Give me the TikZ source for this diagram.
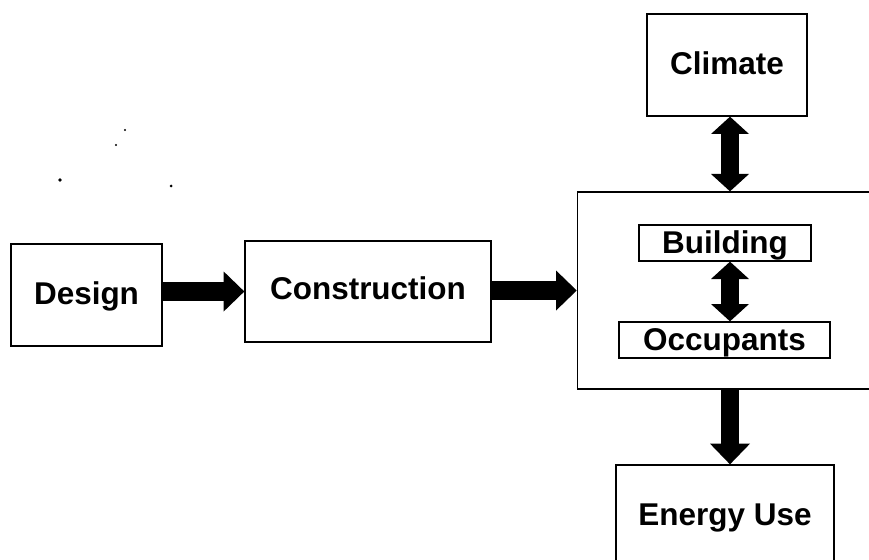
\documentclass[tikz,border=0pt]{standalone}
\usepackage{fontspec}
\setmainfont{Liberation Sans}
\usetikzlibrary{arrows.meta}
\tikzset{
  x=0.75pt,y=-0.75pt,
  boxnode/.style={draw=black,line width=1pt,fill=white,inner sep=0pt,font=\fontsize{23.6pt}{26pt}\selectfont\bfseries,text height=19.5pt,text depth=5pt,align=center},
  heavy/.style={line width=13.6pt,draw=black,-{Triangle[width=30pt,length=15.5pt,line width=0pt]}},
  heavytwo/.style={line width=12.8pt,draw=black,{Triangle[width=28.5pt,length=13pt,line width=0pt]}-{Triangle[width=28.5pt,length=13pt,line width=0pt]}},
  speck/.style={fill=black,draw=none},
}
\begin{document}
\begin{tikzpicture}
\clip (0,0) rectangle (869,560);
\fill[white] (0,0) rectangle (869,560);
\node[boxnode,minimum width=113.25pt,minimum height=76.5pt] (design) at (86.5,295) {Design};
\node[boxnode,minimum width=184.5pt,minimum height=75.75pt,text height=16.5pt] (construction) at (368,291.5) {Construction};
\node[boxnode,minimum width=120pt,minimum height=76.5pt] (climate) at (727,65) {Climate};
\node[boxnode,minimum width=247.5pt,minimum height=147.75pt] (whole) at (742.4,290.5) {};
\node[boxnode,minimum width=129pt,minimum height=27pt,text height=21pt] (building) at (725,243) {Building};
\node[boxnode,minimum width=158.25pt,minimum height=27pt,text height=21pt] (occupants) at (724.5,340) {Occupants};
\node[boxnode,minimum width=163.5pt,minimum height=76.5pt] (energy) at (725,516) {Energy Use};
\coordinate (axis) at (730,0);
\draw[heavy] (design.east |- construction.west) -- (construction.west);
\draw[heavy] (construction.east |- whole.west) -- (whole.west);
\draw[heavytwo] (climate.south -| axis) -- (whole.north -| axis);
\draw[heavytwo] (building.south -| axis) -- (occupants.north -| axis);
\draw[heavy] (whole.south -| axis) -- (energy.north -| axis);
\fill[speck] (60,180) circle (1.8);
\fill[speck] (125,130) circle (1.2);
\fill[speck] (116,145) circle (1.2);
\fill[speck] (171,186) circle (1.5);
\end{tikzpicture}
\end{document}
